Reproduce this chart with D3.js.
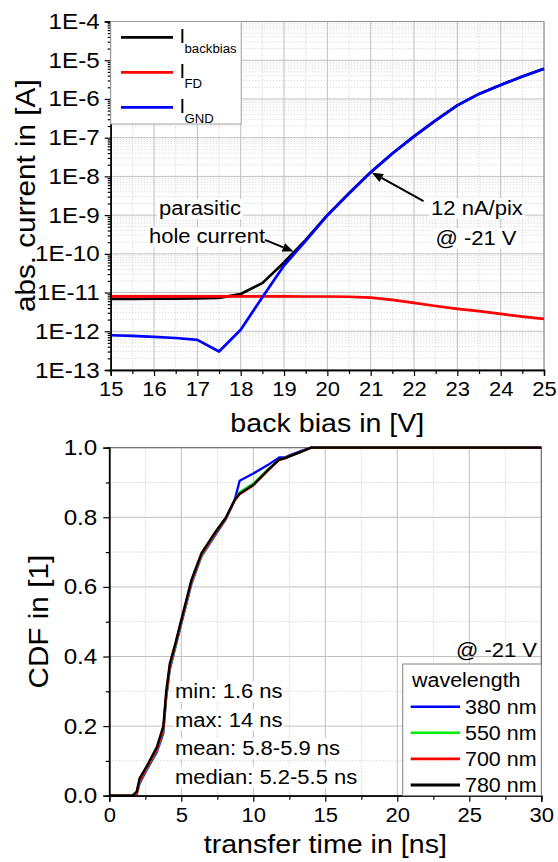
<!DOCTYPE html>
<html><head><meta charset="utf-8">
<script src="https://cdn.jsdelivr.net/npm/d3@7"></script>
<style>
body{margin:0;background:#fff;}
svg text{font-family:"Liberation Sans",Arial,Helvetica,sans-serif;fill:#000;}
</style></head><body>
<svg id="c" width="558" height="862"></svg>
<script>
// ---------- Top panel data ----------
const biasV      = [15,15.5,16,16.5,17,17.5,18,18.5,19,19.5,20,20.5,21,21.5,22,22.5,23,23.5,24,24.5,25];
const iBackbias  = [6.9e-12,6.9e-12,7.0e-12,7.0e-12,7.1e-12,7.3e-12,9.2e-12,1.75e-11,6.0e-11,2.3e-10,1.0e-9,3.7e-9,1.28e-8,3.9e-8,1.08e-7,2.8e-7,6.8e-7,1.35e-6,2.3e-6,3.8e-6,6.0e-6];
const iFD        = [8.0e-12,8.0e-12,8.0e-12,8.0e-12,8.0e-12,8.0e-12,8.0e-12,8.0e-12,8.0e-12,7.9e-12,7.9e-12,7.8e-12,7.4e-12,6.5e-12,5.4e-12,4.5e-12,3.8e-12,3.3e-12,2.8e-12,2.4e-12,2.1e-12];
const iGND       = [7.9e-13,7.6e-13,7.2e-13,6.7e-13,6.0e-13,3.0e-13,1.1e-12,7.6e-12,5.0e-11,2.15e-10,9.8e-10,3.6e-9,1.27e-8,3.9e-8,1.08e-7,2.8e-7,6.8e-7,1.35e-6,2.3e-6,3.8e-6,6.0e-6];
const topSeriesNames  = ["backbias","FD","GND"];
const topSeriesColors = ["#000000","#ff0000","#0000ff"];
const topXTicks = [15,16,17,18,19,20,21,22,23,24,25];
const topYTicks = [1e-13,1e-12,1e-11,1e-10,1e-9,1e-8,1e-7,1e-6,1e-5,1e-4];

// ---------- Bottom panel data ----------
const transferTime = [0,1.6,1.9,2.1,2.6,3.3,3.75,3.95,4.2,4.6,4.9,5.7,6.4,7.4,8.1,8.7,9.05,10.0,11.0,11.8,12.2,12.5,13.3,14.0,30];
const cdf380 = [0,0,0.002,0.035,0.075,0.125,0.18,0.28,0.362,0.428,0.478,0.608,0.688,0.752,0.795,0.848,0.905,0.926,0.95,0.972,0.972,0.978,0.99,1,1];
const cdf550 = [0,0,0.004,0.04,0.078,0.13,0.187,0.285,0.368,0.432,0.482,0.612,0.69,0.755,0.796,0.848,0.872,0.897,0.937,0.966,0.970,0.976,0.988,1,1];
const cdf700 = [0,0,0.005,0.042,0.08,0.133,0.19,0.29,0.372,0.435,0.485,0.615,0.693,0.757,0.797,0.848,0.866,0.892,0.934,0.965,0.969,0.975,0.988,1,1];
const cdf780 = [0,0,0.012,0.05,0.085,0.14,0.2,0.3,0.38,0.44,0.49,0.62,0.697,0.76,0.80,0.85,0.868,0.893,0.935,0.966,0.970,0.975,0.988,1,1];
const wavelengths = ["380 nm","550 nm","700 nm","780 nm"];
const wlColors = ["#0000ff","#00ee00","#ff0000","#000000"];
const botXTicks = [0,5,10,15,20,25,30];
const botYTicks = [0,0.2,0.4,0.6,0.8,1.0];
const statsLines = ["min: 1.6 ns","max: 14 ns","mean: 5.8-5.9 ns","median: 5.2-5.5 ns"];

const FONT_STRETCH = 1.1;
const svg = d3.select("#c");
svg.append("rect").attr("width",558).attr("height",862).attr("fill","#fff");

function stretch(sel,k){
  k = k||FONT_STRETCH;
  sel.each(function(){
    const L=this.getComputedTextLength();
    this.setAttribute("textLength",L*k);
    this.setAttribute("lengthAdjust","spacingAndGlyphs");
  });
  return sel;
}
function whiteBg(g,textSel,pad){
  pad = pad==null?1.5:pad;
  textSel.each(function(){
    const b=this.getBBox();
    g.insert("rect",()=>this).attr("x",b.x-pad).attr("y",b.y+pad).attr("width",b.width+2*pad).attr("height",b.height-pad).attr("fill","#fff");
  });
}
function styleAxis(g){
  g.select(".domain").attr("stroke","#000").attr("stroke-width",1.3);
  g.selectAll(".tick line").attr("stroke","#000").attr("stroke-width",1.2);
}

// =============== TOP PANEL ===============
const T = {l:110.7,r:544,t:21.5,b:370};
const xT = d3.scaleLinear().domain([15,25]).range([T.l,T.r]);
const yT = d3.scaleLog().domain([1e-13,1e-4]).range([T.b,T.t]);
const gT = svg.append("g");

// minor grid
const minorLogs=[];
for(let e=-13;e<-4;e++) for(let m=2;m<=9;m++) minorLogs.push(m*Math.pow(10,e));
const halfV = d3.range(15.5,25,1);
gT.append("g").selectAll("line").data(minorLogs).join("line")
  .attr("x1",T.l).attr("x2",T.r).attr("y1",d=>yT(d)).attr("y2",d=>yT(d))
  .attr("stroke","#d4d4d4").attr("stroke-width",0.8).attr("stroke-dasharray","1.5,1.5");
gT.append("g").selectAll("line").data(halfV).join("line")
  .attr("x1",d=>xT(d)).attr("x2",d=>xT(d)).attr("y1",T.t).attr("y2",T.b)
  .attr("stroke","#d4d4d4").attr("stroke-width",0.8).attr("stroke-dasharray","1.5,1.5");
// major grid
gT.append("g").selectAll("line").data(topYTicks).join("line")
  .attr("x1",T.l).attr("x2",T.r).attr("y1",d=>yT(d)).attr("y2",d=>yT(d))
  .attr("stroke","#c0c0c0").attr("stroke-width",1);
gT.append("g").selectAll("line").data(topXTicks).join("line")
  .attr("x1",d=>xT(d)).attr("x2",d=>xT(d)).attr("y1",T.t).attr("y2",T.b)
  .attr("stroke","#c0c0c0").attr("stroke-width",1);
// frame
gT.append("rect").attr("x",T.l).attr("y",T.t).attr("width",T.r-T.l).attr("height",T.b-T.t)
  .attr("fill","none").attr("stroke","#909090").attr("stroke-width",1);

// series
const topSeries=[iBackbias,iFD,iGND];
const lineT = d3.line().x((d,i)=>xT(biasV[i])).y(d=>yT(d));
topSeries.forEach((s,k)=>{
  gT.append("path").datum(s).attr("d",lineT).attr("fill","none")
    .attr("stroke",topSeriesColors[k]).attr("stroke-width",2.7).attr("stroke-linejoin","round");
});

// axes
const axYTmin = gT.append("g").attr("transform",`translate(${T.l},0)`)
  .call(d3.axisLeft(yT).tickValues(minorLogs).tickSize(3).tickFormat(""));
styleAxis(axYTmin);
const axYT = gT.append("g").attr("transform",`translate(${T.l},0)`)
  .call(d3.axisLeft(yT).tickValues(topYTicks).tickSize(6).tickPadding(5)
    .tickFormat(d=>"1E"+Math.round(Math.log10(d))));
styleAxis(axYT);
axYT.selectAll("text").attr("font-size",22).attr("font-family","Liberation Sans, Arial").attr("fill","#000").call(stretch);

const axXTmin = gT.append("g").attr("transform",`translate(0,${T.b})`)
  .call(d3.axisBottom(xT).tickValues(halfV).tickSize(4).tickFormat(""));
styleAxis(axXTmin);
const axXT = gT.append("g").attr("transform",`translate(0,${T.b})`)
  .call(d3.axisBottom(xT).tickValues(topXTicks).tickSize(6).tickPadding(6).tickFormat(d3.format("d")));
styleAxis(axXT);
axXT.selectAll("text").attr("font-size",20).attr("font-family","Liberation Sans, Arial").attr("fill","#000").call(stretch);

// titles
gT.append("text").attr("x",(T.l+T.r)/2).attr("y",431.5).attr("text-anchor","middle")
  .attr("font-size",26).text("back bias in [V]").call(stretch);
gT.append("text").attr("transform",`translate(35,${(T.t+T.b)/2}) rotate(-90)`).attr("text-anchor","middle")
  .attr("font-size",27).text("abs. current in [A]").call(stretch);

// legend
const lg = gT.append("g");
lg.append("rect").attr("x",T.l).attr("y",T.t).attr("width",130.5).attr("height",102.5)
  .attr("fill","#fff").attr("stroke","#a0a0a0").attr("stroke-width",1);
topSeriesNames.forEach((n,k)=>{
  const by = 43.3 + k*35;
  lg.append("line").attr("x1",121).attr("x2",173).attr("y1",by-6).attr("y2",by-6)
    .attr("stroke",topSeriesColors[k]).attr("stroke-width",2.8);
  lg.append("text").attr("x",179.5).attr("y",by).attr("font-size",20).text("I");
  lg.append("text").attr("x",184.5).attr("y",by+9.5).attr("font-size",12).text(n).call(stretch);
});

// annotations
const annTop = [
  {lines:["parasitic","hole current"], cx:[200,207], by:[215,243], tail:[18.56,2.3e-10], tip:[19.22,1.15e-10]},
  {lines:["12 nA/pix","@ -21 V"], cx:[477,476], by:[214.5,244.5], tail:[22.22,2.3e-9], tip:[21.03,1.25e-8]}
];
function arrow(g,x1,y1,x2,y2){
  const a=Math.atan2(y2-y1,x2-x1), L=11, W=4.5;
  const bx=x2-L*Math.cos(a), by=y2-L*Math.sin(a);
  g.append("line").attr("x1",x1).attr("y1",y1).attr("x2",bx).attr("y2",by).attr("stroke","#000").attr("stroke-width",2);
  g.append("path").attr("d",`M${x2},${y2}L${bx+W*Math.sin(a)},${by-W*Math.cos(a)}L${bx-W*Math.sin(a)},${by+W*Math.cos(a)}Z`).attr("fill","#000");
}
annTop.forEach(a=>{
  const ga=gT.append("g");
  const ts = ga.selectAll("text").data(a.lines).join("text")
    .attr("x",(d,i)=>a.cx[i]).attr("y",(d,i)=>a.by[i]).attr("text-anchor","middle")
    .attr("font-size",20).text(d=>d).call(stretch);
  whiteBg(ga,ts,2);
  arrow(ga,xT(a.tail[0]),yT(a.tail[1]),xT(a.tip[0]),yT(a.tip[1]));
});

// =============== BOTTOM PANEL ===============
const B = {l:109.3,r:541.3,t:447.7,b:795.7};
const xB = d3.scaleLinear().domain([0,30]).range([B.l,B.r]);
const yB = d3.scaleLinear().domain([0,1]).range([B.b,B.t]);
const gB = svg.append("g");
const botXMinor = d3.range(2.5,30,5);
const botYMinor = [0.1,0.3,0.5,0.7,0.9];
gB.append("g").selectAll("line").data(botXMinor).join("line")
  .attr("x1",d=>xB(d)).attr("x2",d=>xB(d)).attr("y1",B.t).attr("y2",B.b)
  .attr("stroke","#d0d0d0").attr("stroke-width",0.9).attr("stroke-dasharray","1.5,1.5");
gB.append("g").selectAll("line").data(botYMinor).join("line")
  .attr("x1",B.l).attr("x2",B.r).attr("y1",d=>yB(d)).attr("y2",d=>yB(d))
  .attr("stroke","#d0d0d0").attr("stroke-width",0.9).attr("stroke-dasharray","1.5,1.5");
gB.append("g").selectAll("line").data(botXTicks).join("line")
  .attr("x1",d=>xB(d)).attr("x2",d=>xB(d)).attr("y1",B.t).attr("y2",B.b)
  .attr("stroke","#c0c0c0").attr("stroke-width",1);
gB.append("g").selectAll("line").data(botYTicks).join("line")
  .attr("x1",B.l).attr("x2",B.r).attr("y1",d=>yB(d)).attr("y2",d=>yB(d))
  .attr("stroke","#c0c0c0").attr("stroke-width",1);
gB.append("rect").attr("x",B.l).attr("y",B.t).attr("width",B.r-B.l).attr("height",B.b-B.t)
  .attr("fill","none").attr("stroke","#606060").attr("stroke-width",1);

// stats text with white background
const gs = gB.append("g");
const st = gs.selectAll("text").data(statsLines).join("text")
  .attr("x",175).attr("y",(d,i)=>698+i*28.5).attr("font-size",20).text(d=>d).call(stretch);
whiteBg(gs,st,1);

// curves
const cdfs=[cdf380,cdf550,cdf700,cdf780];
const lineB = d3.line().x((d,i)=>xB(transferTime[i])).y(d=>yB(d));
cdfs.forEach((s,k)=>{
  gB.append("path").datum(s).attr("d",lineB).attr("fill","none")
    .attr("stroke",wlColors[k]).attr("stroke-width",2.3).attr("stroke-linejoin","round");
});

// axes
const axYBmin = gB.append("g").attr("transform",`translate(${B.l},0)`)
  .call(d3.axisLeft(yB).tickValues(botYMinor).tickSize(3.5).tickFormat(""));
styleAxis(axYBmin);
const axYB = gB.append("g").attr("transform",`translate(${B.l},0)`)
  .call(d3.axisLeft(yB).tickValues(botYTicks).tickSize(6).tickPadding(6).tickFormat(d3.format(".1f")));
styleAxis(axYB);
axYB.selectAll("text").attr("font-size",22).attr("font-family","Liberation Sans, Arial").attr("fill","#000").call(stretch);
const axXBmin = gB.append("g").attr("transform",`translate(0,${B.b})`)
  .call(d3.axisBottom(xB).tickValues(botXMinor).tickSize(4).tickFormat(""));
styleAxis(axXBmin);
const axXB = gB.append("g").attr("transform",`translate(0,${B.b})`)
  .call(d3.axisBottom(xB).tickValues(botXTicks).tickSize(6).tickPadding(6).tickFormat(d3.format("d")));
styleAxis(axXB);
axXB.selectAll("text").attr("font-size",20).attr("font-family","Liberation Sans, Arial").attr("fill","#000").call(stretch);

gB.append("text").attr("x",(B.l+B.r)/2).attr("y",853).attr("text-anchor","middle")
  .attr("font-size",26).text("transfer time in [ns]").call(stretch);
gB.append("text").attr("transform",`translate(48,${(B.t+B.b)/2}) rotate(-90)`).attr("text-anchor","middle")
  .attr("font-size",27).text("CDF in [1]").call(stretch);

gB.append("text").attr("x",537).attr("y",656.5).attr("text-anchor","end").attr("font-size",20).text("@ -21 V").call(stretch);

// legend
const lb = gB.append("g");
lb.append("rect").attr("x",402.7).attr("y",664).attr("width",B.r-402.7).attr("height",B.b-664)
  .attr("fill","#fff").attr("stroke","#808080").attr("stroke-width",1);
lb.append("text").attr("x",412).attr("y",686.5).attr("font-size",19.5).text("wavelength").call(stretch);
wavelengths.forEach((w,k)=>{
  const ly = 706.7 + k*26.1;
  lb.append("line").attr("x1",410.7).attr("x2",460).attr("y1",ly).attr("y2",ly)
    .attr("stroke",wlColors[k]).attr("stroke-width",k===3?3.2:2.6);
  lb.append("text").attr("x",465).attr("y",ly+7).attr("font-size",19.5).text(w).call(stretch);
});
</script>
</body></html>
